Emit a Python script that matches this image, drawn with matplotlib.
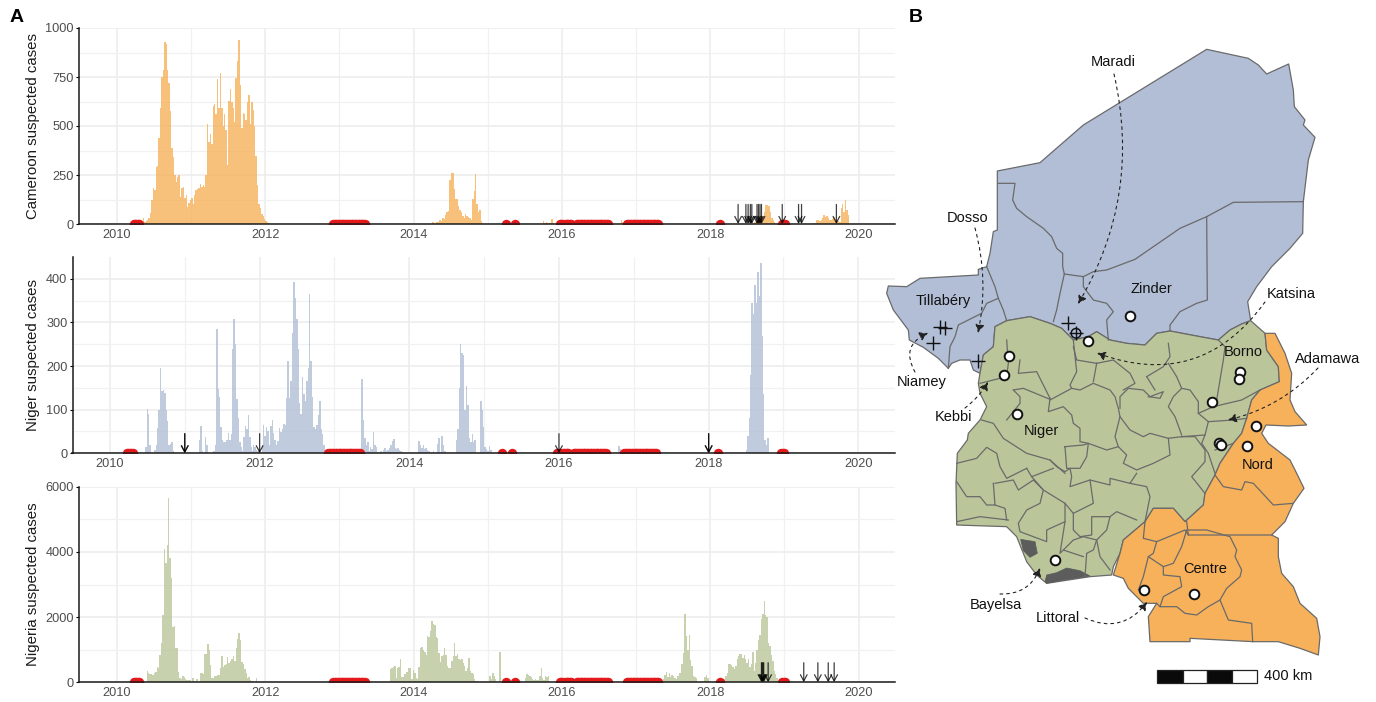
import numpy as np
import matplotlib
matplotlib.use('Agg')
import matplotlib.pyplot as plt
from matplotlib.patches import Polygon, FancyArrowPatch, Rectangle

plt.rcParams['font.family'] = ['Liberation Sans', 'DejaVu Sans']

W, H = 1376, 702

# ---------- weekly suspected cases, (first week as decimal year, values) ----------
cam_a_start = 2010.32
cam_a = [5, 5, 30, 10, 15, 20, 30, 55, 125, 185, 175, 290, 295, 440, 590, 750, 785, 930, 920, 785, 720, 575,
         390, 340, 250, 215, 240, 250, 140, 185, 190, 135, 150, 85, 105, 120, 135, 100, 150, 175, 180, 185,
         205, 190, 200, 190, 250, 510, 420, 460, 410, 600, 610, 560, 740, 590, 770, 590, 500, 560, 480, 300,
         630, 690, 620, 590, 520, 745, 830, 940, 710, 490, 565, 560, 530, 620, 660, 510, 620, 580, 500, 345,
         200, 100, 80, 50, 40, 25, 15, 8, 3]
cam_b_start = 2014.26
cam_b = [8, 0, 5, 10, 10, 20, 15, 30, 25, 45, 60, 65, 225, 260, 260, 180, 130, 130, 90, 70, 60, 40, 30,
         50, 40, 35, 30, 20, 130, 170, 255, 100, 60, 70, 15, 5]
cam_c_start = 2015.75
cam_c = [15, 5, 10, 5, 5, 5, 25, 5]
cam_d_start = 2016.8
cam_d = [20, 12, 5]
cam_e_start = 2018.6
cam_e = [10, 15, 20, 25, 30, 40, 35, 60, 95, 95, 90, 60, 30, 20, 10]
cam_f_start = 2019.4
cam_f = [5, 5, 20, 20, 15, 20, 30, 45, 35, 40, 30, 20, 20, 25, 35, 25, 20, 15, 10, 80, 100, 60, 120, 70, 45]

nig_a_start = 2010.48
nig_a = [15, 102, 90, 18]
nig_b_start = 2010.6
nig_b = [8, 20, 58, 100, 195, 143, 145, 138, 100, 73, 20, 22, 25, 5]
nig_c_start = 2011.2
nig_c = [30, 62, 5, 0, 38, 18]
nig_d_start = 2011.39
nig_d = [5, 20, 285, 147, 130, 60, 30, 27, 25, 30, 46, 30, 45, 240, 307, 250, 125, 80, 25, 15, 5, 38, 62, 55,
         88, 38, 15, 5]
nig_e_start = 2011.92
nig_e = [18, 15, 8, 5, 5, 3, 20, 65, 40, 60, 50, 20, 63, 77, 47, 30, 20, 28, 58, 48, 55, 68, 65, 127, 212, 127,
         165, 275, 393, 355, 308, 240, 115, 90, 175, 135, 120, 165, 195, 365, 212, 130, 60, 55, 65, 88, 120,
         55, 45, 20]
nig_f_start = 2013.37
nig_f = [170, 77, 35, 20, 25, 5, 15, 10, 48, 20, 15, 3, 3, 5, 3, 8, 12, 5, 8, 12, 20, 28, 32, 12, 10, 12, 8, 6, 4]
nig_g_start = 2014.13
nig_g = [28, 20, 12, 18, 10, 12, 8, 5, 0, 0, 6, 0, 0, 22, 36, 3, 40, 20, 5, 0, 0, 0, 0, 0, 0, 0, 30, 55, 150, 250,
         230, 225, 100, 155, 110, 35, 25, 45, 25, 30, 0, 0, 0, 120, 100, 60, 15, 10, 5, 17, 8]
nig_h_start = 2016.8
nig_h = [17, 10, 5]
nig_i_start = 2018.505
nig_i = [8, 40, 80, 180, 345, 320, 385, 345, 415, 360, 437, 270, 135, 30, 20, 35]

nga_a_start = 2010.41
nga_a = [350, 290, 240, 240, 230, 280, 320, 470, 450, 840, 1220, 2050, 4080, 3650, 4200, 5640, 3820, 3200, 1700,
         1730, 1050, 1060, 320, 120, 100, 200, 150, 100, 80, 70, 60, 10, 120, 50, 20, 90, 20]
nga_b_start = 2011.13
nga_b = [290, 270, 260, 860, 870, 1180, 1000, 520, 140, 120, 180, 200, 210, 220, 430, 800, 480, 520, 560, 770,
         600, 640, 700, 800, 640, 1060, 1330, 1520, 1300, 620, 550, 400, 300, 140, 170, 80, 30, 20, 10, 130]
nga_c_start = 2013.69
nga_c = [400, 430, 470, 500, 120, 430, 480, 720, 170, 160, 250, 320, 330, 430, 430, 110, 390, 280, 120, 110, 480,
         1040, 1080, 980, 930, 850, 1430, 1400, 1570, 1880, 1800, 1760, 1400, 1360, 900, 620, 800, 850, 1060, 840,
         500, 450, 450, 650, 800, 1200, 800, 880, 700, 680, 700, 600, 500, 350, 450, 760, 350, 300, 250, 100, 50, 30]
nga_d_start = 2015.03
nga_d = [190, 110, 280, 180, 100, 0, 0, 920]
nga_e_start = 2015.51
nga_e = [120, 260, 220, 180, 150, 100, 80, 90, 80, 60, 190, 450, 120, 80, 200, 150, 190]
nga_f_start = 2017.37
nga_f = [100, 220, 320, 150, 300, 150, 230, 180, 130, 100, 200, 280, 300, 550, 900, 2080, 1430, 1000, 1450, 680,
         500, 200, 150, 120]
nga_g_start = 2017.93
nga_g = [170, 220, 120, 50]
nga_h_start = 2018.19
nga_h = [100, 200, 300, 570, 560, 540, 480, 400, 500, 700, 800, 880, 860, 750, 830, 720, 600, 700, 480, 560, 920, 350,
         600, 1000, 1300, 1450, 1950, 2100, 2480, 2050, 2000, 1200, 1100, 850, 650, 350, 250, 130]

# periods with no data (red dots), year ranges
missing = [(2010.225, 2010.31), (2012.92, 2013.35), (2015.24, 2015.25), (2015.37, 2015.38), (2015.97, 2016.02),
           (2016.05, 2016.13), (2016.2, 2016.64), (2016.875, 2017.30), (2018.13, 2018.14), (2018.97, 2019.02)]

# outbreak response arrows
cam_arrows = [2018.375, 2018.48, 2018.51, 2018.54, 2018.56, 2018.63, 2018.65, 2018.67, 2018.69,
              2018.97, 2019.19, 2019.23, 2019.70]
nig_arrows = [2011.0, 2011.0, 2012.0, 2016.0, 2018.0, 2018.0]
nga_arrows = [2018.69, 2018.70, 2018.71, 2018.72, 2018.78, 2019.26, 2019.45, 2019.59, 2019.67]

years = [2010, 2012, 2014, 2016, 2018, 2020]
odd_years = [2011, 2013, 2015, 2017, 2019]
cam_ticks = [0, 250, 500, 750, 1000]
cam_minor = [125, 375, 625, 875]
nig_ticks = [0, 100, 200, 300, 400]
nig_minor = [50, 150, 250, 350]
nga_ticks = [0, 2000, 4000, 6000]
nga_minor = [1000, 3000, 5000]

ORANGE = '#F6B15A'
BLUE = '#B1BED6'
GREEN = '#BAC69A'

fig = plt.figure(figsize=(W / 100, H / 100), dpi=100)


def panel(left, right, top, bottom, xlim, ylim, ticks, minor, segs, color, arrows, arrow_top, label):
    ax = fig.add_axes([left / W, 1 - bottom / H, (right - left) / W, (bottom - top) / H])
    for st, vals in segs:
        xs = st + np.arange(len(vals)) / 52.0
        ax.bar(xs, vals, width=1 / 52.0, color=color, alpha=0.8, linewidth=0, zorder=2)
    # red points sit on the axis line and get clipped by it
    for a, b in missing:
        xs = np.arange(a, b + 0.001, 1 / 52.0)
        ax.scatter(xs, np.zeros(len(xs)), s=46, color='#E3191C', linewidth=0, zorder=3)
    for x in arrows:
        ax.annotate('', xy=(x, 0), xytext=(x, arrow_top),
                    arrowprops=dict(arrowstyle='->,head_length=0.45,head_width=0.24', color='black', alpha=0.75,
                                    lw=0.9, shrinkA=0, shrinkB=0), zorder=4)
    ax.set_xlim(*xlim)
    ax.set_ylim(*ylim)
    ax.set_xticks(years)
    ax.set_xticks(odd_years, minor=True)
    ax.set_yticks(ticks)
    ax.set_yticks(minor, minor=True)
    ax.grid(True, which='major', color='#EDEDED', lw=1.2, zorder=0)
    ax.grid(True, which='minor', color='#F1F1F1', lw=0.9, zorder=0)
    ax.set_axisbelow(True)
    for s in ['top', 'right']:
        ax.spines[s].set_visible(False)
    for s in ['left', 'bottom']:
        ax.spines[s].set_linewidth(1.1)
        ax.spines[s].set_color('#1a1a1a')
        ax.spines[s].set_zorder(5)
    ax.tick_params(axis='x', which='both', length=0, pad=3.5, labelsize=9.2, labelcolor='#4D4D4D')
    ax.tick_params(axis='y', which='major', length=2.2, width=0.8, pad=1.5, labelsize=9.2, labelcolor='#4D4D4D')
    ax.tick_params(axis='y', which='minor', length=0)
    ax.set_ylabel(label, fontsize=10.8, color='#1a1a1a')
    ax.yaxis.set_label_coords((40 - left) / (right - left), 0.5)
    return ax


panel(79, 895, 28, 224, (2009.49, 2020.49), (0, 1000), cam_ticks, cam_minor,
      [(cam_a_start, cam_a), (cam_b_start, cam_b), (cam_c_start, cam_c), (cam_d_start, cam_d),
       (cam_e_start, cam_e), (cam_f_start, cam_f)], ORANGE, cam_arrows, 100, 'Cameroon suspected cases')
panel(72.5, 895, 257, 453.3, (2009.5, 2020.49), (0, 450), nig_ticks, nig_minor,
      [(nig_a_start, nig_a), (nig_b_start, nig_b), (nig_c_start, nig_c), (nig_d_start, nig_d), (nig_e_start, nig_e),
       (nig_f_start, nig_f), (nig_g_start, nig_g), (nig_h_start, nig_h), (nig_i_start, nig_i)],
      BLUE, nig_arrows, 45, 'Niger suspected cases')
panel(79, 895, 486.7, 682.3, (2009.49, 2020.49), (0, 6000), nga_ticks, nga_minor,
      [(nga_a_start, nga_a), (nga_b_start, nga_b), (nga_c_start, nga_c), (nga_d_start, nga_d), (nga_e_start, nga_e),
       (nga_f_start, nga_f), (nga_g_start, nga_g), (nga_h_start, nga_h)],
      GREEN, nga_arrows, 600, 'Nigeria suspected cases')

# ---------- map, drawn on a full figure axes in pixels ----------
mp = fig.add_axes([0, 0, 1, 1], facecolor='none')
mp.set_xlim(0, W)
mp.set_ylim(H, 0)
mp.axis('off')


def up(pts):
    return [(880 + x / 3, y / 3) for x, y in pts]


def lo(pts):
    return [(880 + x / 3, 340 + y / 3) for x, y in pts]


niger_shape = up([(980, 148), (1105, 175), (1135, 195), (1160, 222), (1226, 192), (1240, 270), (1243, 320), (1275, 360),
                  (1270, 375), (1305, 412), (1285, 480), (1270, 605), (1268, 700), (1230, 745), (1175, 800), (1130, 860),
                  (1103, 905), (1112, 962), (1085, 972), (1050, 990), (1015, 1020), (960, 1010), (870, 993), (830, 1000),
                  (795, 1035), (740, 1030), (690, 1020), (650, 995), (625, 1010), (580, 1020), (545, 985), (510, 970),
                  (450, 950), (380, 962), (345, 980), (340, 1040), (310, 1065), (300, 1120), (280, 1110), (270, 1080),
                  (240, 1080), (215, 1090), (205, 1105), (175, 1075), (130, 1042), (88, 1020), (85, 990), (40, 930),
                  (20, 880), (25, 858), (80, 860), (120, 835), (295, 825), (295, 808), (320, 800), (330, 760), (340, 695),
                  (352, 690), (352, 513), (480, 488), (610, 375)])
niger_lines = [
    [(355, 550), (405, 550), (398, 600), (410, 625), (440, 650), (490, 685), (515, 710), (530, 745), (548, 760),
     (548, 800), (553, 822), (610, 830)],
    [(610, 830), (640, 815), (680, 810), (765, 778), (900, 685), (980, 650), (1060, 607), (1270, 605)],
    [(980, 650), (982, 900), (950, 910), (900, 935), (870, 975), (870, 993)],
    [(320, 800), (345, 860), (355, 895), (370, 930), (380, 962)],
    [(355, 895), (320, 910), (305, 940), (265, 960), (235, 975), (225, 1010), (210, 1040), (205, 1105)],
    [(553, 822), (540, 880), (530, 930), (520, 965)],
    [(610, 830), (610, 860), (640, 900), (680, 910), (700, 935), (680, 960), (685, 1020)],
]
nigeria_shape = lo([(1155, -20), (1160, 30), (1195, 80), (1198, 125), (1140, 150), (1115, 180), (1100, 235), (1085, 280),
                    (1060, 310), (1020, 370), (1005, 405), (975, 460), (970, 495), (915, 545), (880, 505), (820, 505),
                    (795, 545), (730, 600), (720, 640), (700, 680), (695, 705), (630, 710), (500, 730), (470, 705),
                    (440, 665), (410, 590), (380, 560), (230, 555), (228, 430), (232, 340), (262, 300), (265, 280),
                    (300, 240), (320, 200), (300, 160), (295, 130), (300, 100), (310, 45), (340, 20), (345, -40),
                    (380, -58), (450, -70), (510, -50), (545, -35), (580, 0), (625, -10), (650, -25), (690, 0),
                    (740, 10), (795, 15), (830, -20), (870, -27), (960, -10), (1015, 0), (1050, -30), (1085, -48),
                    (1112, -58)])
nigeria_lines = [
    [(380, 0), (385, 70), (380, 110), (300, 130)],
    [(420, 60), (415, 100), (470, 95), (510, 175)],
    [(580, 0), (590, 95), (570, 135), (575, 145), (510, 180)],
    [(400, 150), (430, 145), (510, 178)],
    [(400, 150), (420, 170), (420, 190), (380, 240)],
    [(510, 175), (505, 215), (550, 200), (575, 225), (580, 250), (600, 265), (600, 305), (625, 310), (680, 330), (715, 320)],
    [(575, 145), (600, 150), (640, 130), (690, 150), (705, 170), (715, 205), (720, 230), (705, 290), (715, 320), (740, 345),
     (730, 370), (770, 390), (820, 370), (870, 345), (865, 295), (905, 290)],
    [(720, 205), (720, 170), (745, 145), (790, 150), (810, 170), (850, 155), (840, 175), (805, 170)],
    [(720, 230), (750, 270), (790, 290), (810, 280), (865, 295)],
    [(905, 290), (975, 285), (985, 245), (1060, 240), (1100, 235)],
    [(905, 285), (885, 230), (865, 200), (880, 170), (905, 145), (930, 150), (955, 185), (955, 220), (985, 245)],
    [(955, 220), (1000, 200), (1085, 180), (1140, 150)],
    [(1000, 200), (1010, 180), (1030, 60), (1035, 20), (1015, 0)],
    [(650, 70), (640, 125)],
    [(650, 70), (700, 60), (750, 100), (765, 130), (730, 150)],
    [(650, 70), (590, 60), (580, 20)],
    [(800, 110), (850, 80), (870, 50), (865, 10)],
    [(800, 110), (825, 150)],
    [(865, 70), (890, 110), (905, 145)],
    [(975, 285), (965, 310), (985, 340), (1005, 400)],
    [(1005, 330), (1060, 310)],
    [(905, 290), (945, 290), (975, 330), (975, 365), (935, 410), (975, 460)],
    [(555, 320), (610, 315), (625, 310), (620, 350), (600, 385), (560, 385), (555, 320)],
    [(230, 370), (290, 355), (320, 322), (350, 340), (360, 380), (380, 415), (440, 385)],
    [(305, 240), (340, 250), (370, 295), (440, 340), (510, 360), (555, 400)],
    [(440, 385), (455, 410), (520, 385)],
    [(510, 360), (530, 380), (555, 395), (570, 385), (575, 410), (570, 440), (630, 420), (690, 435), (690, 415), (750, 430), (770, 400)],
    [(750, 430), (800, 440), (810, 470), (795, 545)],
    [(630, 420), (640, 490), (580, 520), (555, 490), (490, 450), (455, 410)],
    [(345, 430), (400, 420), (415, 450), (460, 420), (490, 450), (480, 490), (440, 510), (415, 550), (420, 575), (500, 605), (500, 570), (555, 545), (555, 490)],
    [(230, 425), (260, 470), (300, 470), (320, 495), (345, 495), (340, 430)],
    [(345, 495), (375, 505), (380, 540)],
    [(230, 545), (300, 530), (385, 540)],
    [(555, 545), (540, 640), (580, 600), (610, 590), (650, 600), (640, 630), (620, 640), (615, 710)],
    [(580, 520), (580, 570), (600, 590), (635, 585), (635, 530), (690, 530), (680, 570), (650, 600), (660, 650), (690, 690)],
    [(690, 530), (710, 515), (770, 540)],
    [(550, 630), (610, 650)],
]
delta_a = lo([(422, 598), (465, 605), (472, 640), (450, 652), (430, 632)])
delta_b = lo([(495, 725), (500, 705), (530, 698), (560, 684), (600, 692), (630, 708), (540, 722), (500, 730)])
cameroon_shape = lo([(1155, -20), (1185, -20), (1215, 40), (1235, 100), (1230, 180), (1245, 215), (1280, 255), (1225, 258),
                     (1158, 255), (1145, 280), (1165, 310), (1230, 360), (1250, 400), (1272, 445), (1240, 490), (1215, 545),
                     (1175, 585), (1195, 595), (1195, 650), (1205, 700), (1240, 740), (1260, 790), (1310, 835), (1320, 890),
                     (1315, 945), (1260, 925), (1195, 905), (1120, 905), (930, 895), (930, 905), (810, 905), (805, 830),
                     (830, 790), (790, 790), (745, 745), (730, 715), (700, 705), (720, 640), (730, 600), (795, 545), (820, 505),
                     (880, 505), (915, 545), (970, 495), (975, 460), (1005, 405), (1020, 370), (1060, 310), (1085, 280),
                     (1100, 235), (1115, 180), (1140, 150), (1198, 125), (1195, 80), (1160, 30)])
cameroon_lines = [
    [(1005, 405), (1030, 440), (1085, 450), (1095, 425), (1120, 430), (1180, 495), (1240, 490)],
    [(920, 545), (925, 585), (1175, 585)],
    [(925, 570), (980, 570), (1050, 590), (1070, 630), (1065, 650), (1085, 690), (1080, 710), (1040, 745), (1020, 780),
     (985, 800), (950, 825), (915, 820), (890, 800), (840, 800), (830, 790)],
    [(1020, 780), (1045, 840), (1115, 850), (1118, 905)],
    [(795, 545), (790, 595), (830, 605), (915, 570), (925, 585)],
    [(830, 605), (820, 640), (805, 650), (850, 680), (880, 670), (905, 620), (920, 570)],
    [(805, 650), (790, 710), (775, 750), (790, 760)],
    [(850, 680), (850, 705), (900, 710), (905, 740), (850, 770), (840, 800)],
]

EDGE = '#6A6A6A'
for shp, col in [(niger_shape, BLUE), (nigeria_shape, GREEN), (cameroon_shape, ORANGE)]:
    mp.add_patch(Polygon(shp, closed=True, facecolor=col, edgecolor=EDGE, lw=0.9, joinstyle='round'))
for shp in [delta_a, delta_b]:
    mp.add_patch(Polygon(shp, closed=True, facecolor='#5C5C5C', edgecolor='#5C5C5C', lw=0.5))
for line in niger_lines:
    xy = np.array(up(line))
    mp.plot(xy[:, 0], xy[:, 1], color=EDGE, lw=0.9)
for line in nigeria_lines + cameroon_lines:
    xy = np.array(lo(line))
    mp.plot(xy[:, 0], xy[:, 1], color=EDGE, lw=0.9)

# district markers
site_x = [1009.3, 1004.3, 1017.3, 1240, 1239, 1211.7, 1256, 1219.3, 1221, 1246.7, 1055, 1144, 1193.7, 1129.7, 1088.3]
site_y = [355.7, 375, 414, 372.3, 379.3, 402.3, 425.7, 442.7, 445, 445.7, 560.3, 589.7, 594, 316, 341]
plus_x = [940, 945, 933.3, 1068.3, 1076, 977.7]
plus_y = [326.7, 328.3, 343.3, 323.3, 333.3, 361]
mp.scatter(plus_x, plus_y, marker='+', s=110, color='#111111', linewidth=1.0, zorder=6)
mp.scatter([1076], [333.3], s=48, facecolor='none', edgecolor='#111111', linewidth=1.1, zorder=6)
mp.scatter(site_x, site_y, s=48, facecolor='white', edgecolor='#111111', linewidth=1.4, zorder=7)

# names on the map
map_labels = ['Maradi', 'Dosso', 'Tillabéry', 'Zinder', 'Katsina', 'Borno', 'Adamawa', 'Niamey', 'Kebbi', 'Niger',
              'Nord', 'Centre', 'Bayelsa', 'Littoral']
label_x = [1113, 968, 943, 1151, 1291, 1243, 1328, 922, 954, 1041, 1258, 1205, 996, 1058]
label_y = [62, 218, 301, 289, 294, 352, 359, 382, 417, 431, 465, 569, 605, 618]
for s, x, y in zip(map_labels, label_x, label_y):
    mp.text(x, y, s, ha='center', va='center', fontsize=10.5, color='#111111', zorder=8)

# dashed curved arrows from the names to the districts
curves = [((1114, 74), (1078, 304), -0.2), ((975, 228), (978, 333), -0.12), ((915, 372), (928, 333), -0.55),
          ((1265, 302), (1097, 353), -0.38), ((1318, 368), (1228, 420), -0.15), ((965, 408), (988, 382), 0.1),
          ((1000, 594), (1040, 568), 0.35), ((1085, 618), (1147, 602), 0.4)]
for start, end, rad in curves:
    mp.add_patch(FancyArrowPatch(start, end, connectionstyle='arc3,rad=%g' % rad, arrowstyle='-|>,head_length=5,head_width=2.6',
                                 color='#222222', lw=0.8, linestyle=(0, (2.5, 3.5)), shrinkA=0, shrinkB=0, zorder=8))

# scale bar
scale_x = [1157, 1183, 1207, 1232]
scale_w = [26, 24, 25, 25]
scale_c = ['#0A0A0A', 'white', '#0A0A0A', 'white']
for x, w, c in zip(scale_x, scale_w, scale_c):
    mp.add_patch(Rectangle((x, 670), w, 13, facecolor=c, edgecolor='#222222', lw=0.9))
mp.text(1264, 676, '400 km', ha='left', va='center', fontsize=10.5, color='#111111')

fig.text(10 / W, 1 - 17 / H, 'A', fontsize=14, fontweight='bold', ha='left', va='center', color='black')
fig.text(909 / W, 1 - 17 / H, 'B', fontsize=14, fontweight='bold', ha='left', va='center', color='black')

fig.savefig('out.png', dpi=100)
